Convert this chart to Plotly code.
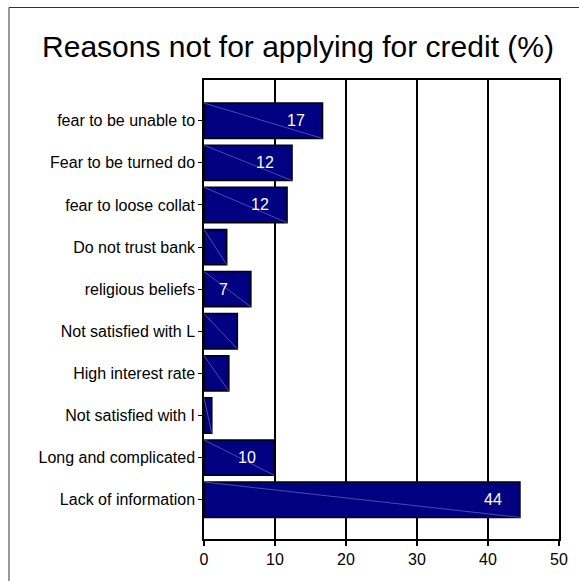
import plotly.graph_objects as go

categories = [
    "fear to be unable to",
    "Fear to be turned do",
    "fear to loose collat",
    "Do not trust bank",
    "religious beliefs",
    "Not satisfied with L",
    "High interest rate",
    "Not satisfied with I",
    "Long and complicated",
    "Lack of information",
]
values = [16.7, 12.4, 11.7, 3.2, 6.6, 4.7, 3.5, 1.1, 9.9, 44.5]
bar_labels = ["17", "12", "12", "", "7", "", "", "", "10", "44"]
x_ticks = [0, 10, 20, 30, 40, 50]

title_text = "Reasons not for applying for credit (%)"
FONT = "Liberation Sans, Arial, sans-serif"
BAR_W = 0.84

fig = go.Figure()
fig.add_trace(go.Bar(
    x=values, y=list(range(len(categories))), orientation="h",
    width=BAR_W,
    marker=dict(color="#000080", line=dict(color="#000000", width=1.5)),
    hoverinfo="skip",
))

shapes = []
for i, v in enumerate(values):
    shapes.append(dict(type="line", xref="x", yref="y",
                       x0=0, y0=i - BAR_W / 2, x1=v, y1=i + BAR_W / 2,
                       line=dict(color="rgba(140,140,230,0.75)", width=0.7),
                       layer="above"))

# outer frame (left and top edges visible)
W, H = 579, 581
ml, mr, mt, mb = 204, 20, 80, 42
pw, ph = W - ml - mr, H - mt - mb
def px(xp):
    return (xp - ml) / pw
def py(yp):
    return (H - mb - yp) / ph
shapes.append(dict(type="line", xref="paper", yref="paper",
                   x0=px(9), y0=py(7.5), x1=px(W + 2), y1=py(7.5),
                   line=dict(color="#333", width=1)))
shapes.append(dict(type="line", xref="paper", yref="paper",
                   x0=px(9), y0=py(7.5), x1=px(9), y1=py(H + 2),
                   line=dict(color="#333", width=1)))

annotations = []
for i, (v, lab) in enumerate(zip(values, bar_labels)):
    if lab:
        annotations.append(dict(x=v, y=i, xref="x", yref="y", text=lab,
                                showarrow=False, xanchor="center", yanchor="middle",
                                xshift=-27, font=dict(color="white", size=16, family=FONT)))

fig.update_layout(
    width=W, height=H,
    margin=dict(l=ml, r=mr, t=mt, b=mb, pad=0),
    paper_bgcolor="white", plot_bgcolor="white",
    showlegend=False,
    title=dict(text=title_text, xref="container", x=298 / W, xanchor="center",
               yref="container", y=1 - 46 / H, yanchor="middle",
               font=dict(size=30, family=FONT, color="#000")),
    font=dict(family=FONT, color="#000", size=16),
    shapes=shapes,
    annotations=annotations,
    xaxis=dict(range=[0, 50], tickvals=x_ticks, ticktext=[str(t) for t in x_ticks],
               showgrid=True, gridcolor="#000", gridwidth=1.5,
               showline=True, linecolor="#000", linewidth=1.5, mirror=True,
               ticks="outside", ticklen=5, tickcolor="#000", tickwidth=1.5,
               tickfont=dict(size=16, family=FONT), zeroline=False, fixedrange=True),
    yaxis=dict(range=[9.933, -0.968], tickvals=list(range(len(categories))),
               ticktext=categories,
               showgrid=False, showline=True, linecolor="#000", linewidth=1.5, mirror=True,
               ticks="outside", ticklen=4, tickcolor="#000", tickwidth=1,
               tickfont=dict(size=16, family=FONT), zeroline=False, fixedrange=True),
)

fig.write_html("out.html")
